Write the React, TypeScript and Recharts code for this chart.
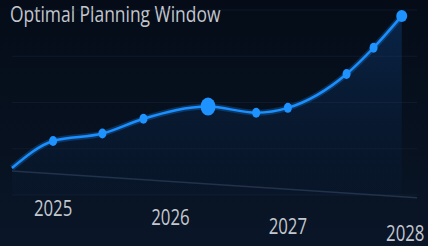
import React from "react";
import {
  ComposedChart,
  Area,
  Line,
  XAxis,
  YAxis,
  CartesianGrid,
  ReferenceLine,
} from "recharts";

// time position (fractional year) of each point on the curve
const years = [2024.65, 2025.0, 2025.42, 2025.77, 2026.32, 2026.73, 2027.0, 2027.5, 2027.73, 2027.97];
// planning score
const scores = [14.6, 29.2, 33.2, 41.2, 47.8, 44.5, 47.1, 65.4, 79.6, 96.8];
const yearTicks = [2025, 2026, 2027, 2028];

const data = years.map((t, i) => ({ t, score: scores[i] }));

const LINE = "#1a8fff";
const DOT = "#1e93ff";
const TEXT = "#c4c8ce";

// labels step downwards left to right, like the tilted reference
const tickDrop = [13, 22, 31, 38];

const YearTick = (props: any) => {
  const { x, y, payload, index } = props;
  return (
    <text
      transform={`translate(${x},${y + tickDrop[index]}) scale(0.8,1)`}
      x={0}
      y={0}
      textAnchor="middle"
      dominantBaseline="central"
      fill={TEXT}
      fontSize={21}
      fontFamily="'Open Sans', sans-serif"
    >
      {payload.value}
    </text>
  );
};

const PointDot = (props: any) => {
  const { cx, cy, index } = props;
  if (index === 0 || cx == null) return <g key={`d${index}`} />;
  let rx = 4;
  let ry = 5;
  if (index === 4) {
    rx = 7.5;
    ry = 9;
  } else if (index === data.length - 1) {
    rx = 5.5;
    ry = 6;
  }
  return <ellipse key={`d${index}`} cx={cx} cy={cy} rx={rx} ry={ry} fill={DOT} />;
};

export default function App() {
  return (
    <div
      style={{
        position: "absolute",
        left: 0,
        top: 0,
        width: 428,
        height: 246,
        overflow: "hidden",
        background: "linear-gradient(180deg, #050c18 0%, #07111f 55%, #0a1628 100%)",
      }}
    >
      <div
        style={{
          position: "absolute",
          left: 10,
          top: 0,
          color: TEXT,
          fontFamily: "'Open Sans', sans-serif",
          fontSize: 21,
          whiteSpace: "nowrap",
          transform: "scaleX(0.83)",
          transformOrigin: "left top",
        }}
      >
        Optimal Planning Window
      </div>
      <ComposedChart
        width={428}
        height={246}
        data={data}
        margin={{ top: 10, right: 11, left: 12, bottom: 0 }}
      >
        <defs>
          <linearGradient id="fillBlue" x1="0" y1="0" x2="0" y2="1">
            <stop offset="0%" stopColor="#1466c8" stopOpacity={0.45} />
            <stop offset="100%" stopColor="#0a2a5a" stopOpacity={0.15} />
          </linearGradient>
        </defs>
        <CartesianGrid stroke="#1b2a40" strokeOpacity={0.4} vertical={false} />
        <XAxis
          dataKey="t"
          type="number"
          domain={[2024.65, 2028.1]}
          ticks={yearTicks}
          axisLine={false}
          tickLine={false}
          tickSize={0}
          tickMargin={0}
          height={51}
          interval={0}
          tick={<YearTick />}
        />
        <YAxis hide domain={[0, 100]} ticks={[25, 50, 75, 100]} />
        <ReferenceLine
          segment={[
            { x: 2024.65, y: 13 },
            { x: 2028.1, y: -1.5 },
          ]}
          stroke="#22324a"
          strokeWidth={1.5}
          ifOverflow="visible"
        />
        <Area
          type="monotone"
          dataKey="score"
          stroke="none"
          fill="url(#fillBlue)"
          baseValue={0}
          isAnimationActive={false}
        />
        <Line
          type="monotone"
          dataKey="score"
          stroke={LINE}
          strokeOpacity={0.25}
          strokeWidth={6}
          dot={false}
          activeDot={false}
          isAnimationActive={false}
        />
        <Line
          type="monotone"
          dataKey="score"
          stroke={LINE}
          strokeWidth={2.5}
          dot={<PointDot />}
          activeDot={false}
          isAnimationActive={false}
        />
      </ComposedChart>
    </div>
  );
}
